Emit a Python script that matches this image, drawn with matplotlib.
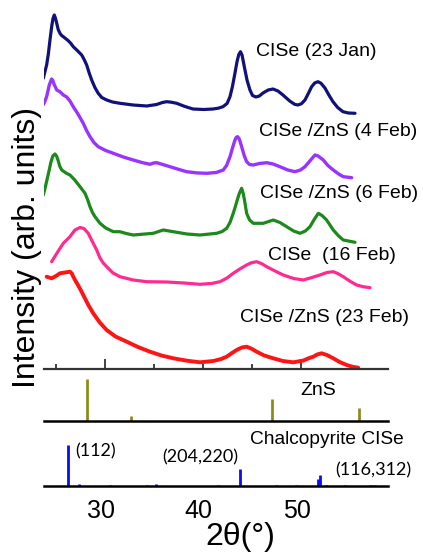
import matplotlib
matplotlib.use("Agg")
import matplotlib.pyplot as plt

# ---------------- data ----------------
labels = ["CISe (23 Jan)", "CISe /ZnS (4 Feb)", "CISe /ZnS (6 Feb)", "CISe  (16 Feb)", "CISe /ZnS (23 Feb)"]
offsets = [250, 190, 125, 80, 0]

tt1 = [24.13, 24.3, 24.47, 24.65, 24.81, 25.0, 25.12, 25.25, 25.38, 25.50, 25.65, 25.83, 26.0, 26.17, 26.4,
       26.68, 26.95, 27.19, 27.6, 28.05, 28.3, 28.56, 28.8, 29.07, 29.4, 29.74, 30.1, 30.60, 31.2, 31.96,
       33.3, 34.69, 35.7, 36.3, 36.73, 37.2, 37.75, 38.6, 39.42, 40.5, 41.46, 42.0, 42.48, 42.9, 43.20,
       43.45, 43.71, 43.92, 44.1, 44.27, 44.43, 44.6, 44.73, 44.95, 45.24, 45.5, 45.85, 46.2, 46.57, 47.1,
       47.59, 48.1, 48.61, 49.3, 49.8, 50.14, 50.5, 50.86, 51.2, 51.54, 51.85, 52.19, 52.5, 52.9, 53.3,
       53.72, 54.2, 54.74, 55.3, 55.97]
I1 = [40.2, 47, 53.5, 65, 78.5, 93, 100, 103.5, 100, 95.2, 89, 85.2, 83, 81.8, 80,
      77.8, 75, 71.8, 68, 63.5, 59, 53.5, 46, 38.5, 31, 25.2, 21, 18.5, 16.5, 15.2,
      13.5, 12.5, 14, 16, 16.8, 16.3, 15.2, 12, 9.5, 9, 9.5, 10.3, 11.8, 15, 21.8,
      32, 45.5, 57, 64, 66.8, 63.5, 55, 48.5, 38, 28.5, 23, 21.5, 22.5, 25.5, 28.5,
      29.5, 27.5, 23.5, 17.5, 14.2, 13.5, 14.8, 18.5, 25, 31.8, 35.5, 36.8, 35.2, 30.5, 23.5,
      16.8, 11, 6.8, 5.5, 5.2]

tt2 = [23.96, 24.2, 24.47, 24.74, 24.98, 25.1, 25.22, 25.5, 25.83, 26.17, 26.52, 26.85, 27.19, 27.7, 28.21,
       28.55, 28.90, 29.3, 29.74, 30.5, 31.28, 32.3, 33.32, 34.2, 35.03, 35.4, 35.71, 36.4, 37.07, 38.0,
       38.77, 39.8, 40.82, 41.8, 42.51, 42.85, 43.20, 43.5, 43.71, 43.85, 43.98, 44.15, 44.39, 44.65, 44.90,
       45.2, 45.58, 46.2, 46.95, 47.6, 48.30, 49.1, 49.84, 50.4, 50.86, 51.4, 51.88, 52.2, 52.73, 53.2,
       53.75, 54.3, 54.77, 55.63]
I2 = [71.8, 75, 81.8, 93.5, 99.5, 98, 94.5, 88.5, 86.8, 83.5, 81.5, 77.5, 71.8, 64, 55.2,
      48, 41.8, 36, 31.8, 28, 25.2, 21.5, 18.5, 16, 14.2, 15.5, 15.8, 13.8, 11.8, 9,
      6.8, 5.6, 5.2, 6, 8.5, 13, 21.8, 32, 38.5, 41.3, 41.8, 39.5, 31.8, 23, 16.8,
      14, 13.5, 15, 15.8, 14.5, 11.8, 8.5, 6.8, 8.5, 11.8, 18, 23.5, 22.5, 18.5, 13,
      8.5, 4.5, 1.8, 0.8]

tt3 = [24.13, 24.3, 24.50, 24.7, 24.91, 25.1, 25.32, 25.48, 25.63, 25.8, 26.01, 26.45, 26.85, 27.3, 27.88,
       28.39, 28.65, 28.90, 29.15, 29.41, 29.92, 30.5, 31.28, 31.96, 32.6, 33.32, 35.36, 36.38, 37.41, 38.8,
       40.13, 41.84, 42.4, 42.86, 43.2, 43.53, 43.75, 43.94, 44.15, 44.39, 44.55, 44.68, 44.90, 45.2, 45.58,
       46.60, 47.62, 48.3, 48.99, 49.7, 50.35, 50.9, 51.37, 51.8, 52.22, 52.6, 53.07, 53.75, 54.3, 54.77,
       55.97]
I3 = [48.5, 55, 63.5, 72, 81.5, 87.5, 89.5, 87.5, 83.5, 77.5, 73.5, 70.5, 68.5, 64, 56.8,
      50.2, 44, 36.8, 31, 26.8, 20.2, 15.5, 11.8, 11.8, 10, 8.5, 10.2, 13.5, 11.8, 9.5,
      8.5, 10.2, 12, 15.2, 21, 30.2, 37, 43.5, 50, 55.2, 50, 43.5, 30.2, 23.5, 20.2,
      20.2, 23.5, 21, 16.8, 12.5, 10.2, 12.5, 16.8, 24, 30.2, 28, 23.5, 13.5, 7.5, 3.5,
      1.2]

tt4 = [24.98, 25.53, 26.17, 26.85, 27.36, 27.88, 28.28, 28.72, 29.23, 29.58, 29.92, 30.25, 30.60, 31.25, 31.96,
       33.3, 34.69, 36.73, 38.5, 40.13, 41.3, 42.18, 42.9, 43.53, 44.2, 44.90, 45.4, 45.92, 46.4, 46.95,
       47.8, 48.64, 49.7, 50.68, 51.5, 52.39, 53.1, 53.75, 54.2, 54.77, 55.5, 56.14, 56.8, 57.50]
I4 = [26.8, 35.5, 45.2, 51.8, 58.5, 61.0, 60.0, 55.2, 45.2, 38.5, 30.5, 25.5, 21.8, 15.5, 11.8,
      8.5, 6.8, 6.5, 5.5, 4.2, 5, 6.8, 10.5, 15.2, 19.5, 23.5, 25.8, 26.8, 25, 21.8,
      17.5, 13.5, 10, 8.5, 10.8, 13.5, 16, 16.8, 15, 11.8, 7, 3.5, 1.8, 0.8]

tt5 = [24.47, 24.98, 25.42, 25.83, 26.34, 26.85, 27.05, 27.19, 27.4, 27.67, 27.95, 28.21, 28.7, 29.23, 29.9,
       30.60, 31.5, 32.65, 33.8, 35.03, 36.2, 37.41, 38.8, 40.13, 41.5, 42.3, 42.86, 43.4, 43.88, 44.4,
       44.90, 45.4, 45.92, 46.7, 47.62, 48.6, 49.66, 50.7, 51.3, 51.71, 52.1, 52.56, 53.1, 53.75, 54.4,
       55.12, 55.7, 56.30]
I5 = [91.8, 90.2, 92.5, 95.2, 96.0, 96.8, 95, 91.8, 88, 83.5, 78.5, 73.5, 64, 55.2, 46,
      38.5, 32, 26.8, 21.5, 16.8, 13, 10.2, 7.8, 6.2, 7.5, 9.5, 11.8, 15.5, 18.5, 21,
      21.8, 19.8, 16.8, 13, 10.2, 7.5, 6.2, 8, 10.5, 11.8, 14, 15.2, 13.5, 10.2, 6.5,
      3.5, 1.8, 0.8]

znS_tt = [28.6, 33.1, 47.5, 56.4]
znS_I = [100, 11, 52, 31]

cise_tt = [26.68, 27.8, 30.9, 34.75, 35.6, 42.0, 44.2, 47.9, 49.9, 52.2, 52.4, 53.0, 54.9, 57.6, 58.0]
cise_I = [100, 6.5, 2.5, 2, 6.5, 3, 41, 2, 2, 17, 27, 3, 2, 2.5, 2.5]

hkl_labels = ["(112)", "(204,220)", "(116,312)"]
xticks_major = [30, 40, 50]

# ---------------- figure ----------------
W, H = 423, 553
fig = plt.figure(figsize=(W / 100, H / 100), dpi=100)
fig.patch.set_facecolor("white")

xl = (24.2, 59.3)
left = 44 / W
width = 343.6 / W

def rect(top_px, bottom_px):
    return [left, 1 - bottom_px / H, width, (bottom_px - top_px) / H]

sans = ["Liberation Sans", "DejaVu Sans"]
narrow = ["Liberation Sans Narrow", "Liberation Sans", "DejaVu Sans"]

# top panel
ax = fig.add_axes(rect(5, 368.5))
colors = ["#11117a", "#9933ff", "#1b8a1b", "#ff2a90", "#ff1414"]
lws = [2.3, 2.4, 2.3, 2.3, 2.8]
series = [(tt1, I1), (tt2, I2), (tt3, I3), (tt4, I4), (tt5, I5)]
for (tt, ii), off, c, lw in zip(series, offsets, colors, lws):
    ax.plot(tt, [v + off for v in ii], color=c, lw=lw, solid_joinstyle="round", solid_capstyle="round")
ax.set_xlim(*xl)
ax.set_ylim(0, 363.5)
for s in ["left", "right", "top"]:
    ax.spines[s].set_visible(False)
ax.spines["bottom"].set_linewidth(1.6)
ax.spines["bottom"].set_color("#333333")
ax.set_yticks([])
tick_shift = 0.42
ax.set_xticks([t + tick_shift for t in [30, 50]])
ax.set_xticks([t + tick_shift for t in [25, 35, 40, 45]], minor=True)
ax.tick_params(axis="x", which="major", direction="in", length=7, width=1.3, color="#333333", labelbottom=False)
ax.tick_params(axis="x", which="minor", direction="in", length=3.5, width=1.3, color="#333333")

label_pos = [(45.85, 316.5), (46.16, 236.5), (46.26, 175.5), (47.08, 112.5), (44.22, 51.5)]
for lab, (x, y) in zip(labels, label_pos):
    ax.text(x, y, lab, ha="left", va="center", fontsize=14, family=sans, clip_on=False)

# ZnS panel
ax2 = fig.add_axes(rect(375, 420.7))
ax2.vlines(znS_tt, 0, znS_I, color="#8c8c1c", lw=2.0)
ax2.set_xlim(*xl)
ax2.set_ylim(0, 109.6)
for s in ["left", "right", "top"]:
    ax2.spines[s].set_visible(False)
ax2.spines["bottom"].set_linewidth(1.8)
ax2.set_xticks([])
ax2.set_yticks([])
ax2.set_facecolor("none")
ax2.text(52.22, 73.6, "ZnS", ha="center", va="center", fontsize=14, family=sans, clip_on=False)

# CISe panel
ax3 = fig.add_axes(rect(425, 486.3))
ax3.vlines(cise_tt, 0, cise_I, color="#0a0aff", lw=2.0)
ax3.set_xlim(*xl)
ax3.set_ylim(0, 149.5)
for s in ["left", "right", "top"]:
    ax3.spines[s].set_visible(False)
ax3.spines["bottom"].set_linewidth(1.8)
ax3.set_yticks([])
ax3.set_facecolor("none")
ax3.set_xticks(xticks_major)
ax3.set_xticklabels([str(t) for t in xticks_major], family=narrow, fontsize=18)
ax3.tick_params(axis="x", length=0, pad=9)
ax3.text(45.24, 113, "Chalcopyrite CISe", ha="left", va="center", fontsize=13.8, family=sans, clip_on=False)
hkl_pos = [(27.36, 86), (36.26, 71.5), (53.93, 39.8)]
for lab, (x, y) in zip(hkl_labels, hkl_pos):
    ax3.text(x, y, lab, ha="left", va="center", fontsize=13, family=["Lato", "DejaVu Sans"], clip_on=False)

fig.text(240.5 / W, 1 - 537 / H, "2θ(°)", ha="center", va="center", fontsize=23, family=sans)
fig.text(27 / W, 1 - 248 / H, "Intensity (arb. units)", ha="center", va="center", rotation=90,
         fontsize=23, family=sans)

fig.savefig("out.png", dpi=100, facecolor="white")
